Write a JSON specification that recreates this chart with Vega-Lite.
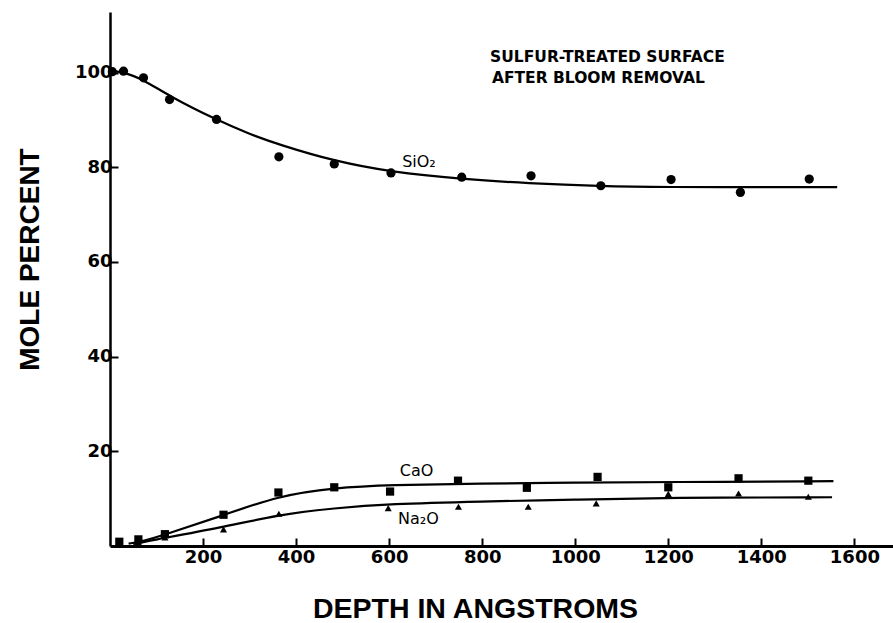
{
  "$schema": "https://vega.github.io/schema/vega-lite/v6.json",
  "width": 783,
  "height": 534,
  "autosize": {"type": "none"},
  "padding": {"left": 110, "top": 12, "right": 0, "bottom": 77},
  "background": "white",
  "config": {
    "view": {"stroke": null},
    "axis": {"grid": false, "domainColor": "black", "tickColor": "black", "labelColor": "black", "titleColor": "black"}
  },
  "datasets": {
    "curves": [
      {"oxide": "SiO2", "depth": 0, "pct": 100.4},
      {"oxide": "SiO2", "depth": 30, "pct": 100.1},
      {"oxide": "SiO2", "depth": 72, "pct": 98.5},
      {"oxide": "SiO2", "depth": 128, "pct": 95.0},
      {"oxide": "SiO2", "depth": 229, "pct": 90.0},
      {"oxide": "SiO2", "depth": 300, "pct": 87.0},
      {"oxide": "SiO2", "depth": 363, "pct": 84.8},
      {"oxide": "SiO2", "depth": 482, "pct": 81.3},
      {"oxide": "SiO2", "depth": 604, "pct": 79.0},
      {"oxide": "SiO2", "depth": 756, "pct": 77.5},
      {"oxide": "SiO2", "depth": 900, "pct": 76.6},
      {"oxide": "SiO2", "depth": 1050, "pct": 76.0},
      {"oxide": "SiO2", "depth": 1200, "pct": 75.8},
      {"oxide": "SiO2", "depth": 1400, "pct": 75.8},
      {"oxide": "SiO2", "depth": 1563, "pct": 75.8},
      {"oxide": "CaO", "depth": 40, "pct": 0.5},
      {"oxide": "CaO", "depth": 71, "pct": 1.0},
      {"oxide": "CaO", "depth": 118, "pct": 2.4},
      {"oxide": "CaO", "depth": 244, "pct": 6.5},
      {"oxide": "CaO", "depth": 362, "pct": 10.6},
      {"oxide": "CaO", "depth": 482, "pct": 12.3},
      {"oxide": "CaO", "depth": 602, "pct": 12.9},
      {"oxide": "CaO", "depth": 796, "pct": 13.2},
      {"oxide": "CaO", "depth": 1000, "pct": 13.4},
      {"oxide": "CaO", "depth": 1200, "pct": 13.5},
      {"oxide": "CaO", "depth": 1555, "pct": 13.7},
      {"oxide": "Na2O", "depth": 50, "pct": 0.4},
      {"oxide": "Na2O", "depth": 79, "pct": 1.0},
      {"oxide": "Na2O", "depth": 244, "pct": 4.0},
      {"oxide": "Na2O", "depth": 363, "pct": 6.6},
      {"oxide": "Na2O", "depth": 482, "pct": 8.0},
      {"oxide": "Na2O", "depth": 602, "pct": 8.9},
      {"oxide": "Na2O", "depth": 796, "pct": 9.4},
      {"oxide": "Na2O", "depth": 1000, "pct": 9.8},
      {"oxide": "Na2O", "depth": 1198, "pct": 10.2},
      {"oxide": "Na2O", "depth": 1552, "pct": 10.3}
    ],
    "points": [
      {"oxide": "SiO2", "depth": 5, "pct": 100.2},
      {"oxide": "SiO2", "depth": 29, "pct": 100.3},
      {"oxide": "SiO2", "depth": 72, "pct": 98.9},
      {"oxide": "SiO2", "depth": 128, "pct": 94.3},
      {"oxide": "SiO2", "depth": 229, "pct": 90.1},
      {"oxide": "SiO2", "depth": 363, "pct": 82.2},
      {"oxide": "SiO2", "depth": 482, "pct": 80.7},
      {"oxide": "SiO2", "depth": 604, "pct": 78.8},
      {"oxide": "SiO2", "depth": 756, "pct": 77.9},
      {"oxide": "SiO2", "depth": 905, "pct": 78.2},
      {"oxide": "SiO2", "depth": 1055, "pct": 76.1},
      {"oxide": "SiO2", "depth": 1206, "pct": 77.4},
      {"oxide": "SiO2", "depth": 1355, "pct": 74.7},
      {"oxide": "SiO2", "depth": 1503, "pct": 77.5},
      {"oxide": "CaO", "depth": 20, "pct": 0.9},
      {"oxide": "CaO", "depth": 61, "pct": 1.4},
      {"oxide": "CaO", "depth": 118, "pct": 2.5},
      {"oxide": "CaO", "depth": 244, "pct": 6.6},
      {"oxide": "CaO", "depth": 362, "pct": 11.3},
      {"oxide": "CaO", "depth": 482, "pct": 12.4},
      {"oxide": "CaO", "depth": 602, "pct": 11.5},
      {"oxide": "CaO", "depth": 748, "pct": 13.8},
      {"oxide": "CaO", "depth": 896, "pct": 12.3},
      {"oxide": "CaO", "depth": 1048, "pct": 14.6},
      {"oxide": "CaO", "depth": 1200, "pct": 12.4},
      {"oxide": "CaO", "depth": 1351, "pct": 14.3},
      {"oxide": "CaO", "depth": 1501, "pct": 13.8},
      {"oxide": "Na2O", "depth": 20, "pct": 0.6},
      {"oxide": "Na2O", "depth": 61, "pct": 0.8},
      {"oxide": "Na2O", "depth": 118, "pct": 1.8},
      {"oxide": "Na2O", "depth": 244, "pct": 3.5},
      {"oxide": "Na2O", "depth": 363, "pct": 6.8},
      {"oxide": "Na2O", "depth": 598, "pct": 8.0},
      {"oxide": "Na2O", "depth": 749, "pct": 8.3},
      {"oxide": "Na2O", "depth": 899, "pct": 8.3},
      {"oxide": "Na2O", "depth": 1045, "pct": 9.0},
      {"oxide": "Na2O", "depth": 1200, "pct": 11.0},
      {"oxide": "Na2O", "depth": 1351, "pct": 11.1},
      {"oxide": "Na2O", "depth": 1501, "pct": 10.4}
    ],
    "labels": [
      {"label": "SiO₂", "depth": 628, "pct": 81.1},
      {"label": "CaO", "depth": 623, "pct": 15.8},
      {"label": "Na₂O", "depth": 619, "pct": 5.7}
    ],
    "notes": [
      {"label": "SULFUR-TREATED SURFACE", "depth": 817, "pct": 103.2},
      {"label": "AFTER BLOOM REMOVAL", "depth": 821, "pct": 98.9}
    ]
  },
  "layer": [
    {
      "mark": {"type": "rule", "color": "black", "strokeWidth": 2.5},
      "encoding": {"y": {"datum": 112.8, "type": "quantitative", "scale": {"domain": [0, 112.8], "nice": false, "zero": true}}}
    },
    {
      "data": {"name": "curves"},
      "mark": {"type": "line", "interpolate": "basis", "color": "black", "strokeWidth": 2.2},
      "encoding": {
        "x": {"field": "depth", "type": "quantitative",
          "scale": {"domain": [0, 1683], "nice": false},
          "axis": {
            "values": [200, 400, 600, 800, 1000, 1200, 1400, 1600],
            "format": "d",
            "tickSize": -8, "tickWidth": 2, "domainWidth": 3,
            "labelFont": "DejaVu Sans", "labelFontWeight": "bold", "labelFontSize": 18,
            "labelPadding": 10, "labelFlush": false, "labelOverlap": false,
            "title": "DEPTH  IN  ANGSTROMS",
            "titleFont": "Liberation Sans", "titleFontWeight": "bold", "titleFontSize": 28.5,
            "titleX": 365, "titleY": 48, "titleAnchor": null, "titleAlign": "center", "titleBaseline": "top"
          }
        },
        "y": {"field": "pct", "type": "quantitative",
          "scale": {"domain": [0, 112.8], "nice": false},
          "axis": {
            "values": [20, 40, 60, 80, 100],
            "format": "d",
            "tickSize": -8, "tickWidth": 2, "domainWidth": 2.5,
            "labelFont": "DejaVu Sans", "labelFontWeight": "bold", "labelFontSize": 18,
            "labelPadding": 6, "labelFlush": false, "labelOverlap": false,
            "title": "MOLE  PERCENT",
            "titleFont": "Liberation Sans", "titleFontWeight": "bold", "titleFontSize": 28,
            "titleX": -80, "titleY": 247, "titleAngle": 270, "titleAnchor": null, "titleAlign": "center", "titleBaseline": "middle"
          }
        },
        "detail": {"field": "oxide"}
      }
    },
    {
      "data": {"name": "points"},
      "mark": {"type": "point", "filled": true, "color": "black", "opacity": 1},
      "encoding": {
        "x": {"field": "depth", "type": "quantitative"},
        "y": {"field": "pct", "type": "quantitative"},
        "shape": {"field": "oxide", "type": "nominal", "scale": {"domain": ["SiO2", "CaO", "Na2O"], "range": ["circle", "square", "triangle-up"]}, "legend": null},
        "size": {"field": "oxide", "type": "nominal", "scale": {"domain": ["SiO2", "CaO", "Na2O"], "range": [85, 50, 85]}, "legend": null}
      }
    },
    {
      "data": {"name": "labels"},
      "mark": {"type": "text", "align": "left", "baseline": "middle", "font": "DejaVu Sans", "fontSize": 16, "color": "black"},
      "encoding": {
        "x": {"field": "depth", "type": "quantitative"},
        "y": {"field": "pct", "type": "quantitative"},
        "text": {"field": "label"}
      }
    },
    {
      "data": {"name": "notes"},
      "mark": {"type": "text", "align": "left", "baseline": "middle", "font": "DejaVu Sans", "fontWeight": "bold", "fontSize": 15.5, "color": "black"},
      "encoding": {
        "x": {"field": "depth", "type": "quantitative"},
        "y": {"field": "pct", "type": "quantitative"},
        "text": {"field": "label"}
      }
    }
  ]
}
